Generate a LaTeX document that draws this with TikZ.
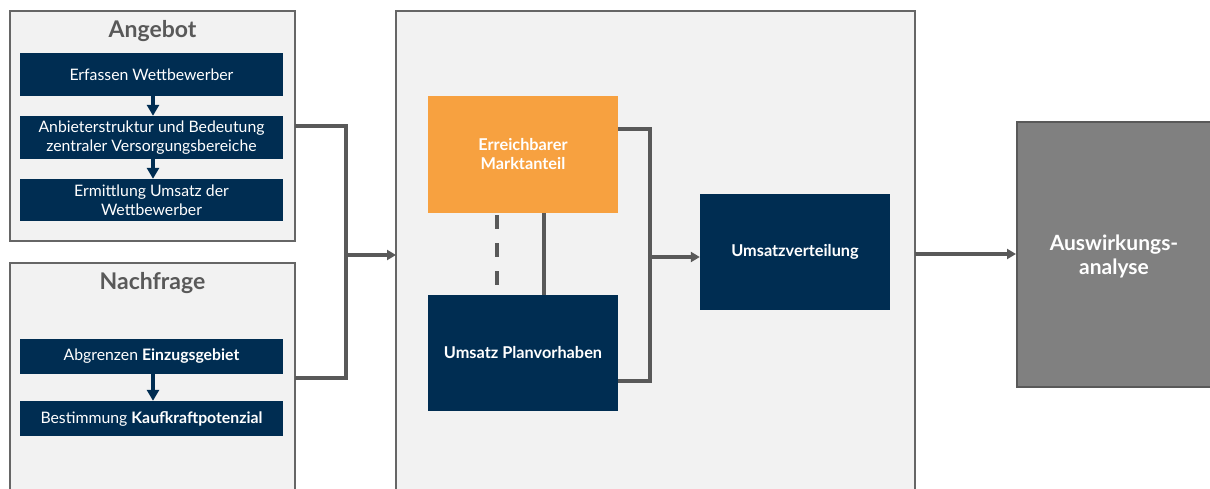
\documentclass[tikz,border=0pt]{standalone}
\usepackage{fontspec}
\setmainfont{Lato}
\usetikzlibrary{arrows.meta,positioning}
\definecolor{navy}{HTML}{002D52}
\definecolor{orng}{HTML}{F7A140}
\definecolor{panel}{HTML}{F2F2F2}
\definecolor{edge}{HTML}{666666}
\definecolor{conn}{HTML}{595959}
\definecolor{darkgray}{HTML}{808080}
\tikzset{
  x=1pt,y=-1pt,
  panelbox/.style={draw=edge,line width=2.4pt,fill=panel},
  bluebox/.style={fill=navy,text=white,inner sep=0pt,align=center,font=\fontsize{15.8}{19}\selectfont},
  midbox/.style={minimum width=190,text=white,inner sep=0pt,align=center,font=\bfseries\fontsize{16.3}{19}\selectfont},
  conline/.style={draw=conn,line width=3.2pt},
  conarrow/.style={conline,-{Triangle[length=9pt,width=10pt]}},
  smallarrow/.style={draw=navy,line width=3.5pt,-{Triangle[length=11pt,width=12pt]}},
  titletext/.style={text=conn,font=\bfseries\fontsize{23}{26}\selectfont}
}
\begin{document}
\begin{tikzpicture}
\useasboundingbox (0,0) rectangle (1210,489);
\clip (0,0) rectangle (1210,489);
% panels
\draw[panelbox] (10,11) rectangle (295,241);
\node[titletext] (angt) at (152.5,31) {Angebot};
\draw[panelbox] (10,263) rectangle (295,500);
\node[titletext] (nacht) at (152.5,283) {Nachfrage};
\draw[panelbox] (396,11) rectangle (915,500);
\coordinate (angR) at (295,126);
\coordinate (nacR) at (295,378);
\coordinate (midL) at (396,255);
\coordinate (midR) at (915,254);
% blue boxes left
\node[bluebox,minimum width=263,minimum height=43] (a1) at (151.5,74.5) {Erfassen Wettbewerber};
\node[bluebox,minimum width=263,minimum height=43] (a2) at (151.5,137.5) {Anbieterstruktur und Bedeutung\\zentraler Versorgungsbereiche};
\node[bluebox,minimum width=263,minimum height=42] (a3) at (151.5,200) {Ermittlung Umsatz der\\Wettbewerber};
\draw[smallarrow] (a1.south -| 153,0) -- (a2.north -| 153,0);
\draw[smallarrow] (a2.south -| 153,0) -- (a3.north -| 153,0);
\node[bluebox,minimum width=263,minimum height=35] (n1) at (151.5,356.5) {Abgrenzen \textbf{Einzugsgebiet}};
\node[bluebox,minimum width=263,minimum height=35] (n2) at (151.5,418.5) {Bestimmung \textbf{Kaufkraftpotenzial}};
\draw[smallarrow] (n1.south -| 153,0) -- (n2.north -| 153,0);
% connectors left -> middle
\coordinate (j1) at (346,126);
\coordinate (j2) at (346,378);
\coordinate (j3) at (346,255);
\draw[conline] (angR) -- (j1) -- (j2) -- (nacR);
\draw[conarrow] (j3) -- (midL);
% middle boxes
\node[midbox,fill=orng,minimum height=117] (erm) at (523,154.5) {Erreichbarer\\Marktanteil};
\node[midbox,fill=navy,minimum height=116] (upv) at (523,353) {Umsatz Planvorhaben};
\node[midbox,fill=navy,minimum height=116] (uv) at (795,252) {Umsatzverteilung};
\draw[conline,dash pattern=on 14pt off 14pt] (erm.south -| 497,0) ++(0,2) -- ++(0,73);
\draw[conline] (erm.south -| 544,0) -- (upv.north -| 544,0);
\coordinate (b1) at (650,129);
\coordinate (b2) at (650,381);
\coordinate (b3) at (650,257);
\draw[conline] (erm.east |- b1) -- (b1) -- (b2) -- (upv.east |- b2);
\draw[conarrow] (b3) -- (uv.west |- b3);
% right box
\node[draw=conn,line width=2.2pt,fill=darkgray,minimum width=200,minimum height=265,inner sep=0pt,anchor=north west] (aw) at (1016,121) {};
\node[align=center,text=white,inner sep=0pt,font=\bfseries\fontsize{21}{24}\selectfont] (awt) at (1114,256) {Auswirkungs-\\analyse};
\draw[conarrow] (midR) -- (aw.west |- midR);
\end{tikzpicture}
\end{document}
